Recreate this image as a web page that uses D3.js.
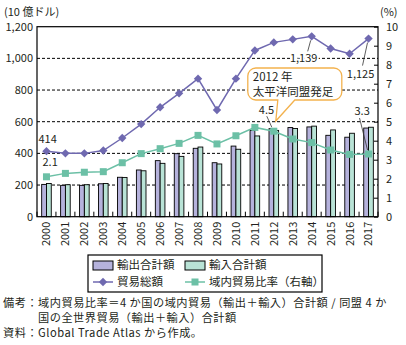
<!DOCTYPE html>
<html>
<head>
<meta charset="utf-8">
<script src="https://cdn.jsdelivr.net/npm/d3@7"></script>
<style>
  html, body { margin: 0; padding: 0; background: #fff; }
  svg { display: block; }
  text { font-family: 'Noto Sans CJK JP', 'Noto Sans', sans-serif; fill: #231f20; }
</style>
</head>
<body>
<svg id="chart" width="406" height="345"></svg>
<script>
// 太平洋同盟4か国の貿易額（10億ドル）と域内貿易比率（%）
const years = ["2000","2001","2002","2003","2004","2005","2006","2007","2008",
               "2009","2010","2011","2012","2013","2014","2015","2016","2017"];
const exportsTotal = [204, 198, 198, 208, 249, 295, 354, 398, 432, 341, 446, 545, 556, 563, 567, 514, 502, 560];
const importsTotal = [210, 202, 202, 210, 248, 290, 337, 381, 440, 333, 426, 510, 545, 557, 572, 548, 527, 565];
const tradeTotal   = [414, 400, 400, 418, 497, 585, 691, 779, 872, 674, 872, 1050, 1101, 1120, 1139, 1062, 1029, 1125];
const intraRatio   = [2.1, 2.28, 2.34, 2.37, 2.84, 3.32, 3.58, 3.86, 4.28, 3.83, 4.26, 4.7, 4.5, 4.09, 3.9, 3.51, 3.28, 3.3];

const leftTicks  = [0, 200, 400, 600, 800, 1000, 1200];
const rightTicks = [0, 1, 2, 3, 4, 5, 6, 7, 8, 9, 10];

const C = {
  exp: "#b5b2dc", imp: "#b9e3d6",
  trade: "#6f69b0", ratio: "#6cc0a6",
  callout: "#f3b24e", ink: "#231f20"
};

const svg = d3.select("#chart");
const m = { left: 37, right: 378, top: 26.7, bottom: 216.7 };

const x = d3.scaleBand().domain(years).range([m.left, m.right]).padding(0);
const y = d3.scaleLinear().domain([0, 1200]).range([m.bottom, m.top]);
const yR = d3.scaleLinear().domain([0, 10]).range([m.bottom, m.top]);
const cx = d => x(d) + x.bandwidth() / 2;
const barW = 4.8;

// dashed horizontal gridlines
svg.append("g").selectAll("line")
  .data(leftTicks.filter(v => v > 0 && v < 1200))
  .join("line")
  .attr("x1", m.left).attr("x2", m.right)
  .attr("y1", d => y(d)).attr("y2", d => y(d))
  .attr("stroke", "#000").attr("stroke-width", 1)
  .attr("stroke-dasharray", "3,2");

// bars
const bars = svg.append("g");
bars.selectAll("rect.exp").data(years).join("rect")
  .attr("class", "exp")
  .attr("x", d => cx(d) - barW)
  .attr("y", (d, i) => y(exportsTotal[i]))
  .attr("width", barW)
  .attr("height", (d, i) => y(0) - y(exportsTotal[i]))
  .attr("fill", C.exp).attr("stroke", "#000").attr("stroke-width", 0.9);
bars.selectAll("rect.imp").data(years).join("rect")
  .attr("class", "imp")
  .attr("x", d => cx(d))
  .attr("y", (d, i) => y(importsTotal[i]))
  .attr("width", barW)
  .attr("height", (d, i) => y(0) - y(importsTotal[i]))
  .attr("fill", C.imp).attr("stroke", "#000").attr("stroke-width", 0.9);

// frame: left, top, right, bottom
svg.append("rect")
  .attr("x", m.left).attr("y", m.top)
  .attr("width", m.right - m.left).attr("height", m.bottom - m.top)
  .attr("fill", "none").attr("stroke", "#000").attr("stroke-width", 1.2);

// left axis labels
const axL = svg.append("g").attr("transform", `translate(${m.left},0)`)
  .call(d3.axisLeft(y).tickValues(leftTicks).tickSize(0).tickPadding(4)
        .tickFormat(d3.format(",")));
axL.select(".domain").remove();
axL.selectAll("text").style("font-size", "11px").style("font-family", null);

// right axis: inward ticks
const axR = svg.append("g").attr("transform", `translate(${m.right},0)`)
  .call(d3.axisRight(yR).tickValues(rightTicks).tickSize(-4).tickPadding(8));
axR.select(".domain").remove();
axR.selectAll("line").attr("stroke", "#000");
axR.selectAll("text").style("font-size", "11px").style("font-family", null);

// bottom axis: inward ticks at category boundaries
const bounds = years.map(d => x(d)).concat([m.right]);
svg.append("g").selectAll("line").data(bounds).join("line")
  .attr("x1", d => d).attr("x2", d => d)
  .attr("y1", m.bottom).attr("y2", m.bottom - 5)
  .attr("stroke", "#000");

svg.append("g").selectAll("text").data(years).join("text")
  .attr("transform", d => `translate(${cx(d)},${m.bottom + 5}) rotate(-90)`)
  .attr("text-anchor", "end").attr("dy", "0.36em")
  .style("font-size", "11px")
  .text(d => d);

// unit labels
svg.append("text").attr("x", 4).attr("y", 16).style("font-size", "11px").text("(10 億ドル)");
svg.append("text").attr("x", 380).attr("y", 16).style("font-size", "11px").text("(%)");

// lines
const diamond = "M0,-4.2L4.2,0L0,4.2L-4.2,0Z";
const lineT = d3.line().x((d, i) => cx(years[i])).y(d => y(d));
const lineR = d3.line().x((d, i) => cx(years[i])).y(d => yR(d));

svg.append("path").datum(intraRatio).attr("d", lineR)
  .attr("fill", "none").attr("stroke", C.ratio).attr("stroke-width", 1.5);
svg.append("g").selectAll("rect").data(intraRatio).join("rect")
  .attr("x", (d, i) => cx(years[i]) - 3.5).attr("y", d => yR(d) - 3.5)
  .attr("width", 7).attr("height", 7).attr("fill", C.ratio);

svg.append("path").datum(tradeTotal).attr("d", lineT)
  .attr("fill", "none").attr("stroke", C.trade).attr("stroke-width", 1.5);
svg.append("g").selectAll("path").data(tradeTotal).join("path")
  .attr("d", diamond)
  .attr("transform", (d, i) => `translate(${cx(years[i])},${y(d)})`)
  .attr("fill", C.trade);

// value labels and leaders
const fmt = d3.format(",");
function label(txt, lx, ly, anchor, halo) {
  const t = svg.append("text").attr("x", lx).attr("y", ly).attr("text-anchor", anchor || "start")
    .style("font-size", "11px").text(txt);
  if (halo) {
    t.style("stroke", "#fff").style("stroke-width", "4px").style("paint-order", "stroke");
  }
}
function leader(x1, y1, x2, y2) {
  svg.append("line").attr("x1", x1).attr("y1", y1).attr("x2", x2).attr("y2", y2)
    .attr("stroke", "#333").attr("stroke-width", 0.8);
}
const i00 = 0, i12 = 12, i14 = 14, i17 = 17;
label(fmt(tradeTotal[i00]), cx(years[i00]) - 8, y(tradeTotal[i00]) - 8);
label(d3.format(".1f")(intraRatio[i00]), cx(years[i00]) - 4, yR(intraRatio[i00]) - 11);

label(fmt(tradeTotal[i14]), cx(years[i14]) - 8, y(tradeTotal[i14]) + 26, "middle", true);
leader(cx(years[i14]) - 4, y(tradeTotal[i14]) + 15, cx(years[i14]) - 1, y(tradeTotal[i14]) + 4);

label(fmt(tradeTotal[i17]), cx(years[i17]) - 8, y(tradeTotal[i17]) + 39, "middle");
leader(cx(years[i17]) - 6, y(tradeTotal[i17]) + 27, cx(years[i17]) - 1, y(tradeTotal[i17]) + 4);

label(d3.format(".1f")(intraRatio[i12]), cx(years[i12]) - 15, yR(intraRatio[i12]) - 17);
leader(cx(years[i12]) - 7, yR(intraRatio[i12]) - 15, cx(years[i12]) - 2, yR(intraRatio[i12]) - 4);

label(d3.format(".1f")(intraRatio[i17]), cx(years[i17]) - 14, yR(intraRatio[i17]) - 39);
leader(cx(years[i17]) - 9, yR(intraRatio[i17]) - 36, cx(years[i17]) - 1, yR(intraRatio[i17]) - 4);

// callout for 2012
const bx = cx(years[i12]);
const b = { l: bx - 26, r: bx + 68, t: 68, btm: 100, rr: 8 };
const tip = [bx + 2, 121];
const p = d3.path();
p.moveTo(b.l + b.rr, b.t);
p.lineTo(b.r - b.rr, b.t);
p.arcTo(b.r, b.t, b.r, b.t + b.rr, b.rr);
p.lineTo(b.r, b.btm - b.rr);
p.arcTo(b.r, b.btm, b.r - b.rr, b.btm, b.rr);
p.lineTo(bx + 21, b.btm);
p.lineTo(tip[0], tip[1]);
p.lineTo(bx + 4, b.btm);
p.lineTo(b.l + b.rr, b.btm);
p.arcTo(b.l, b.btm, b.l, b.btm - b.rr, b.rr);
p.lineTo(b.l, b.t + b.rr);
p.arcTo(b.l, b.t, b.l + b.rr, b.t, b.rr);
p.closePath();
svg.append("path").attr("d", p.toString())
  .attr("fill", "#fff").attr("stroke", C.callout).attr("stroke-width", 1.3);
svg.append("text").attr("x", b.l + 5).attr("y", b.t + 13).style("font-size", "11.5px").text("2012 年");
svg.append("text").attr("x", b.l + 5).attr("y", b.t + 28).style("font-size", "11.5px").text("太平洋同盟発足");

// legend
const lg = svg.append("g");
lg.append("rect").attr("x", 88).attr("y", 255).attr("width", 234).attr("height", 37)
  .attr("fill", "#fff").attr("stroke", "#000").attr("stroke-width", 1.2);
const items = [
  { t: "輸出合計額", kind: "bar", c: C.exp, x: 93, y: 265 },
  { t: "輸入合計額", kind: "bar", c: C.imp, x: 185, y: 265 },
  { t: "貿易総額", kind: "diamond", c: C.trade, x: 93, y: 282 },
  { t: "域内貿易比率（右軸）", kind: "square", c: C.ratio, x: 185, y: 282 }
];
items.forEach(it => {
  if (it.kind === "bar") {
    lg.append("rect").attr("x", it.x).attr("y", it.y - 4).attr("width", 20).attr("height", 9)
      .attr("fill", it.c).attr("stroke", "#000").attr("stroke-width", 1);
  } else {
    lg.append("line").attr("x1", it.x).attr("x2", it.x + 20).attr("y1", it.y).attr("y2", it.y)
      .attr("stroke", it.c).attr("stroke-width", 1.5);
    if (it.kind === "diamond") {
      lg.append("path").attr("d", diamond).attr("transform", `translate(${it.x + 10},${it.y})`).attr("fill", it.c);
    } else {
      lg.append("rect").attr("x", it.x + 6.5).attr("y", it.y - 3.5).attr("width", 7).attr("height", 7).attr("fill", it.c);
    }
  }
  lg.append("text").attr("x", it.x + 24).attr("y", it.y).attr("dy", "0.36em")
    .style("font-size", "11.5px").text(it.t);
});

// notes
const notes = [
  { t: "備考：域内貿易比率＝4 か国の域内貿易（輸出＋輸入）合計額 / 同盟 4 か", x: 3, y: 307 },
  { t: "国の全世界貿易（輸出＋輸入）合計額", x: 38, y: 322 },
  { t: "資料：Global Trade Atlas から作成。", x: 3, y: 337 }
];
svg.append("g").selectAll("text").data(notes).join("text")
  .attr("x", d => d.x).attr("y", d => d.y)
  .style("font-size", "11.2px")
  .style("letter-spacing", "0.5px")
  .text(d => d.t);
</script>
</body>
</html>
